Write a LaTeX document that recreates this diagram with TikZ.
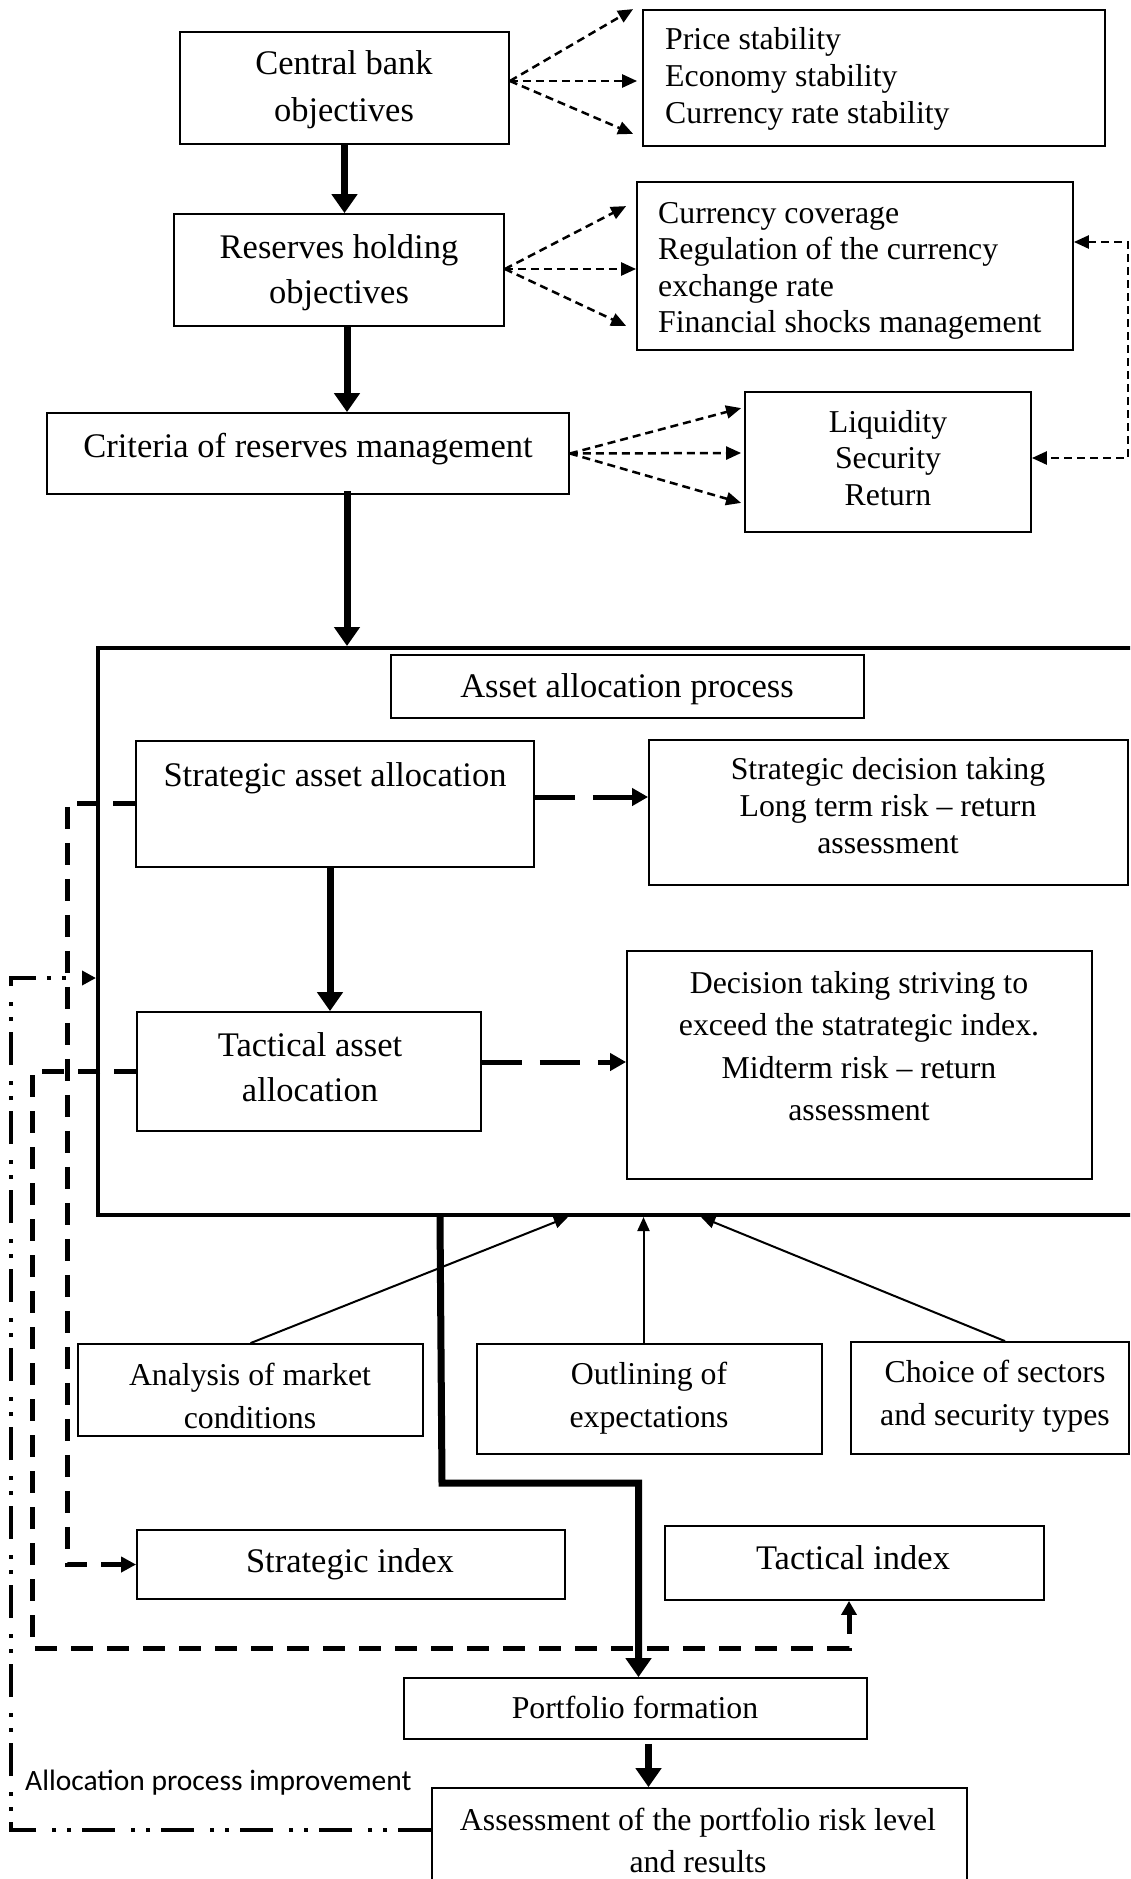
\documentclass[tikz,border=0pt]{standalone}
\usepackage{fontspec}
\setmainfont{Liberation Serif}
\newfontfamily\calibfont{Carlito}
\usetikzlibrary{arrows.meta,fit,calc}
\begin{document}
\begin{tikzpicture}[x=1pt,y=-1pt,
  box/.style={draw, line width=1.8pt, inner sep=0pt},
  lg/.style={font=\fontsize{34.5}{#1}\selectfont, align=center, inner sep=0pt},
  lg/.default=45,
  sm/.style={font=\fontsize{31.8}{#1}\selectfont, align=center, inner sep=0pt},
  sm/.default=37,
  thickarrow/.style={line width=7pt, -{Triangle[length=19pt,width=25pt]}},
  fanarrow/.style={line width=2.5pt, dash pattern=on 8pt off 5pt, -{Triangle[length=15pt,width=13pt]}},
  fanline/.style={line width=2.5pt, dash pattern=on 8pt off 5pt},
  bolddash/.style={line width=5pt, dash pattern=on 40pt off 18pt, -{Triangle[length=16pt,width=17pt]}},
  loopdash/.style={line width=5pt, dash pattern=on 22pt off 14pt},
  dashdotdot/.style={line width=4pt, dash pattern=on 33pt off 11pt on 4pt off 11pt on 4pt off 16pt},
  thinarrow/.style={line width=2pt, -{Triangle[length=14pt,width=12pt]}}
]
\useasboundingbox (0,0) rectangle (1130,1879);
\fill[white] (0,0) rectangle (1130,1879);
\clip (0,0) rectangle (1130,1879);

% boxes and texts
\node[box, fit={(180,32)(509,144)}] (cb) {};
\node[lg=47] (cbT) at (344,89.5) {Central bank\\objectives};

\node[box, fit={(643,10)(1105,146)}] (ps) {};
\node[sm=37, align=left, anchor=west] (psT) at (665,79) {Price stability\\Economy stability\\Currency rate stability};

\node[box, fit={(174,214)(504,326)}] (rh) {};
\node[lg=45] (rhT) at (339,273) {Reserves holding\\objectives};

\node[box, fit={(637,182)(1073,350)}] (cc) {};
\node[sm=36.5, align=left, anchor=west] (ccT) at (658,271) {Currency coverage\\Regulation of the currency\\exchange rate\\Financial shocks management};

\node[box, fit={(47,413)(569,494)}] (cr) {};
\node[lg] (crT) at (308,449) {Criteria of reserves management};

\node[box, fit={(745,392)(1031,532)}] (lq) {};
\node[sm=36.5] (lqT) at (888,458) {Liquidity\\Security\\Return};

\node[draw, line width=4pt, inner sep=0pt, fit={(98,648)(1150,1215)}] (aa) {};

\node[box, fit={(391,655)(864,718)}] (ap) {};
\node[lg] (apT) at (627,689.5) {Asset allocation process};

\node[box, fit={(136,741)(534,867)}] (sa) {};
\node[lg] (saT) at (335,778.5) {Strategic asset allocation};

\node[box, fit={(649,740)(1128,885)}] (sd) {};
\node[sm=37] (sdT) at (888,806) {Strategic decision taking\\Long term risk – return\\assessment};

\node[box, fit={(137,1012)(481,1131)}] (ta) {};
\node[lg=45] (taT) at (310,1067) {Tactical asset\\allocation};

\node[box, fit={(627,951)(1092,1179)}] (dt) {};
\node[sm=42.3] (dtT) at (859,1046) {Decision taking striving to\\exceed the statrategic index.\\Midterm risk – return\\assessment};

\node[box, fit={(78,1344)(423,1436)}] (an) {};
\node[sm=43] (anT) at (250,1396) {Analysis of market\\conditions};

\node[box, fit={(477,1344)(822,1454)}] (ou) {};
\node[sm=43] (ouT) at (649,1398) {Outlining of\\expectations};

\node[box, fit={(851,1342)(1129,1454)}] (ch) {};
\node[sm=43] (chT) at (995,1396.5) {Choice of sectors\\and security types};

\node[box, fit={(137,1530)(565,1599)}] (si) {};
\node[lg] (siT) at (350,1564.5) {Strategic index};

\node[box, fit={(665,1526)(1044,1600)}] (ti) {};
\node[lg] (tiT) at (853,1557.5) {Tactical index};

\node[box, fit={(404,1678)(867,1739)}] (pf) {};
\node[sm] (pfT) at (635,1707) {Portfolio formation};

\node[box, fit={(432,1788)(967,1895)}] (as) {};
\node[sm=42] (asT) at (698,1840) {Assessment of the portfolio risk level\\and results};

\node[font=\calibfont\fontsize{29.5}{35}\selectfont, anchor=base west, inner sep=0pt] (lbl) at (25,1790) {Allocation process improvement};

% fan arrows
\draw[fanarrow] ([yshift=7pt]cb.east) -- ([xshift=-9pt]ps.north west);
\draw[fanarrow] ([yshift=7pt]cb.east) -- ([xshift=-5pt,yshift=-3pt]ps.west);
\draw[fanarrow] ([yshift=7pt]cb.east) -- ([xshift=-9pt,yshift=13pt]ps.south west);

\draw[fanarrow] ([yshift=1pt]rh.east) -- ([xshift=-10pt,yshift=-25pt]cc.north west);
\draw[fanarrow] ([yshift=1pt]rh.east) -- ([yshift=-3pt]cc.west);
\draw[fanarrow] ([yshift=1pt]rh.east) -- ([xshift=-10pt,yshift=25pt]cc.south west);

\draw[fanarrow] (cr.east) -- ([xshift=-3pt,yshift=-17pt]lq.north west);
\draw[fanarrow] (cr.east) -- ([xshift=-3pt,yshift=9pt]lq.west);
\draw[fanarrow] (cr.east) -- ([xshift=-3pt,yshift=30pt]lq.south west);

\coordinate (rc) at (1128,350);
\draw[fanline, {Triangle[length=15pt,width=13pt]}-{Triangle[length=15pt,width=13pt]}] ([yshift=24pt]cc.east) -| (rc) |- ([yshift=4pt]lq.east);

% thick arrows
\draw[thickarrow] (cb.south) -- (cb.south |- rh.north);
\coordinate (k0) at ([xshift=8pt]rh.south);
\draw[thickarrow] (k0) -- (k0 |- cr.north);
\coordinate (k1) at ([xshift=39pt,yshift=4pt]cr.south);
\draw[thickarrow] (k1) -- (k1 |- aa.north);
\coordinate (k2) at ([xshift=-5pt]sa.south);
\draw[thickarrow] (k2) -- (k2 |- ta.north);
\coordinate (k4) at (442,1483);
\draw[thickarrow] ([xshift=344pt]aa.south west) -- (k4) -| ([xshift=3pt]pf.north);
\coordinate (k5) at ([xshift=13pt]pf.south);
\draw[thickarrow, shorten <=4pt] (k5) -- (k5 |- as.north);

% thin arrows into process box
\draw[thinarrow] (an.north) -- ([xshift=472pt]aa.south west);
\coordinate (k6) at ([xshift=-6pt]ou.north);
\draw[thinarrow] (k6) -- (k6 |- aa.south);
\draw[thinarrow] ([xshift=15pt]ch.north) -- ([xshift=605pt]aa.south west);

% bold dashed arrows
\coordinate (k7) at ([yshift=7pt]sa.east);
\draw[bolddash] (k7) -- (k7 -| sd.west);
\coordinate (k8) at ([yshift=9.5pt]ta.east);
\draw[bolddash] (k8) -- (k8 -| dt.west);

% left loops
\coordinate (c1) at (67,1200);
\draw[loopdash, -{Triangle[length=15pt,width=15pt]}] ([yshift=1pt]sa.west) -| (c1) |- (si.west);
\coordinate (c2) at (32,1648);
\coordinate (c3) at (849,1648);
\draw[loopdash, -{Triangle[length=14pt,width=15pt]}] (ta.west) -| (c2) -- (c3) -- (c3 |- ti.south);
\coordinate (c4) at (11,1400);
\coordinate (c5) at ([yshift=-46.5pt]aa.west);
\draw[dashdotdot, -{Triangle[length=14pt,width=14pt]}] ([yshift=11.5pt]as.west) -| (c4) |- (c5);
\end{tikzpicture}
\end{document}
